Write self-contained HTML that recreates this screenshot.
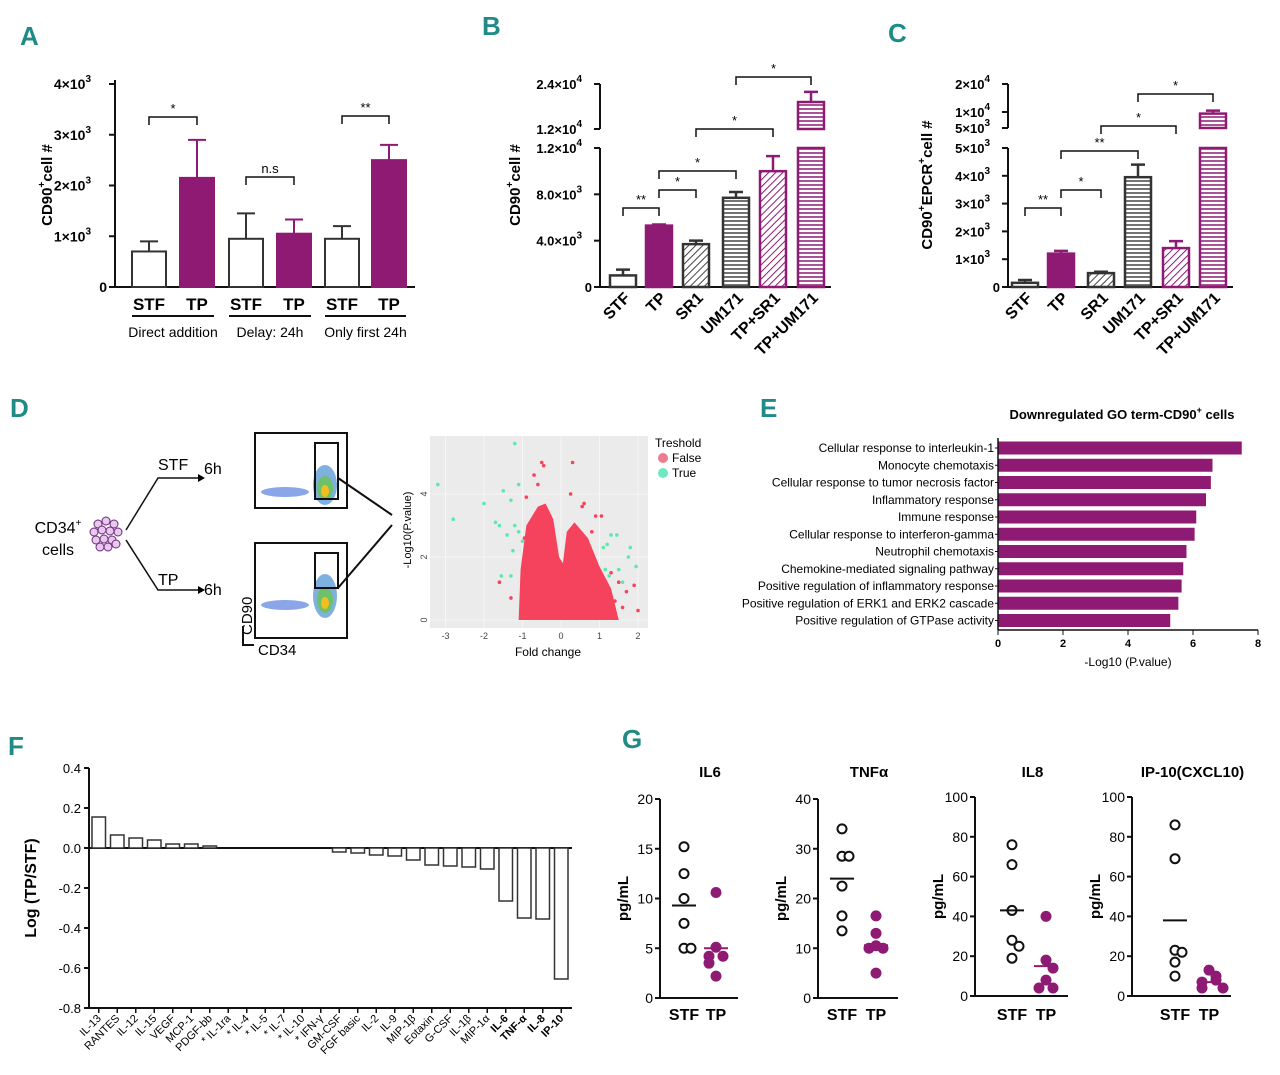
<!DOCTYPE html>
<html><head><meta charset="utf-8"><style>
body{margin:0;background:#fff}
svg{display:block;font-family:"Liberation Sans",sans-serif}
.pl{font-family:"Liberation Sans",sans-serif;font-weight:bold;fill:#1f8a86;font-size:26px}
</style></head><body>
<svg id="fig" width="1280" height="1075" viewBox="0 0 1280 1075" xmlns="http://www.w3.org/2000/svg">
<defs>
<pattern id="diag" width="5" height="5" patternUnits="userSpaceOnUse" patternTransform="rotate(45)"><rect width="5" height="5" fill="#fff"/><line x1="0" y1="0" x2="0" y2="5" stroke="#444" stroke-width="2"/></pattern>
<pattern id="diagP" width="5" height="5" patternUnits="userSpaceOnUse" patternTransform="rotate(45)"><rect width="5" height="5" fill="#fff"/><line x1="0" y1="0" x2="0" y2="5" stroke="#8e1a74" stroke-width="2"/></pattern>
<pattern id="hor" width="5" height="4" patternUnits="userSpaceOnUse"><rect width="5" height="4" fill="#fff"/><line x1="0" y1="1" x2="5" y2="1" stroke="#444" stroke-width="1.5"/></pattern>
<pattern id="horP" width="5" height="4" patternUnits="userSpaceOnUse"><rect width="5" height="4" fill="#fff"/><line x1="0" y1="1" x2="5" y2="1" stroke="#8e1a74" stroke-width="1.5"/></pattern>
</defs>
<text class="pl" x="20" y="45">A</text>
<text class="pl" x="482" y="35">B</text>
<text class="pl" x="888" y="42">C</text>
<text class="pl" x="10" y="417">D</text>
<text class="pl" x="760" y="417">E</text>
<text class="pl" x="8" y="755">F</text>
<text class="pl" x="622" y="748">G</text>

<g font-size="16">
<text x="58" y="533" text-anchor="middle">CD34<tspan font-size="10" dy="-7">+</tspan></text>
<text x="58" y="555" text-anchor="middle">cells</text>
<g stroke="#6b2a7a" fill="#e8c8ef" stroke-width="1">
<circle cx="98" cy="524" r="4"/><circle cx="106" cy="521" r="4"/><circle cx="114" cy="524" r="4"/><circle cx="94" cy="532" r="4"/><circle cx="102" cy="530" r="4"/><circle cx="110" cy="531" r="4"/><circle cx="118" cy="532" r="4"/><circle cx="96" cy="540" r="4"/><circle cx="104" cy="539" r="4"/><circle cx="112" cy="540" r="4"/><circle cx="100" cy="547" r="4"/><circle cx="108" cy="547" r="4"/><circle cx="116" cy="544" r="4"/>
</g>
<path d="M126 530 L158 478 L198 478" fill="none" stroke="#111" stroke-width="1.5"/><path d="M198 474 L205 478 L198 482Z"/>
<path d="M126 540 L158 590 L198 590" fill="none" stroke="#111" stroke-width="1.5"/><path d="M198 586 L205 590 L198 594Z"/>
<text x="158" y="470">STF</text><text x="204" y="474">6h</text>
<text x="158" y="585">TP</text><text x="204" y="595">6h</text>
<g>
<rect x="255" y="433" width="92" height="75" fill="#fff" stroke="#111" stroke-width="2"/>
<ellipse cx="285" cy="492" rx="24" ry="5" fill="#8aa6e8"/><ellipse cx="325" cy="485" rx="12" ry="20" fill="#7fb0e0"/><ellipse cx="325" cy="488" rx="8" ry="12" fill="#6fc06a"/><ellipse cx="325" cy="491" rx="4" ry="6" fill="#f0c020"/>
<rect x="315" y="443" width="23" height="56" fill="none" stroke="#111" stroke-width="2"/>
</g>
<g>
<rect x="255" y="543" width="92" height="95" fill="#fff" stroke="#111" stroke-width="2"/>
<ellipse cx="285" cy="605" rx="24" ry="5" fill="#8aa6e8"/><ellipse cx="325" cy="596" rx="12" ry="22" fill="#7fb0e0"/><ellipse cx="325" cy="600" rx="8" ry="13" fill="#6fc06a"/><ellipse cx="325" cy="603" rx="4" ry="6" fill="#f0c020"/>
<rect x="315" y="553" width="23" height="35" fill="none" stroke="#111" stroke-width="2"/>
</g>
<line x1="338" y1="478" x2="392" y2="515" stroke="#111" stroke-width="2"/>
<line x1="338" y1="588" x2="392" y2="525" stroke="#111" stroke-width="2"/>
<text transform="translate(252,635) rotate(-90)" font-size="15">CD90</text>
<text x="258" y="655" font-size="15">CD34</text>
<path d="M243 626 L243 645 L254 645" fill="none" stroke="#111" stroke-width="2"/>
</g>
<g id="volcano"></g>

<g id="pA"></g>
<g id="pB"></g>
<g id="pC"></g>
<g id="pE"></g>
<g id="pF"></g>
<g id="pG"></g>
</svg>
<script>
const aCats = ["STF","TP","STF","TP","STF","TP"];
const aVals = [700,2150,950,1050,950,2500];
const aErr = [900,2900,1450,1330,1200,2800];
const aGroups = ["Direct addition","Delay: 24h","Only first 24h"];
const bCats = ["STF","TP","SR1","UM171","TP+SR1","TP+UM171"];
const bVals = [1000,5300,3700,7700,10000,19200];
const bErr = [1500,5400,4000,8200,11300,21900];
const cCats = ["STF","TP","SR1","UM171","TP+SR1","TP+UM171"];
const cVals = [150,1200,500,3950,1400,9500];
const cErr = [250,1300,550,4400,1650,10500];
const eTerms = ["Cellular response to interleukin-1","Monocyte chemotaxis","Cellular response to tumor necrosis factor","Inflammatory response","Immune response","Cellular response to interferon-gamma","Neutrophil chemotaxis","Chemokine-mediated signaling pathway","Positive regulation of inflammatory response","Positive regulation of ERK1 and ERK2 cascade","Positive regulation of GTPase activity"];
const eVals = [7.5,6.6,6.55,6.4,6.1,6.05,5.8,5.7,5.65,5.55,5.3];
const eTicks = [0,2,4,6,8];
const fCats = ["IL-13","RANTES","IL-12","IL-15","VEGF","MCP-1","PDGF-bb","* IL-1ra","* IL-4","* IL-5","* IL-7","* IL-10","* IFN-γ","GM-CSF","FGF basic","IL-2","IL-9","MIP-1β","Eotaxin","G-CSF","IL-1β","MIP-1α","IL-6","TNF-α","IL-8","IP-10"];
const fVals = [0.155,0.065,0.05,0.04,0.02,0.02,0.01,0,0,0,0,0,0,-0.02,-0.025,-0.035,-0.04,-0.06,-0.085,-0.09,-0.095,-0.105,-0.265,-0.35,-0.355,-0.655];
const fTicks = [0.4,0.2,0.0,-0.2,-0.4,-0.6,-0.8];
const gTitles = ["IL6","TNFα","IL8","IP-10(CXCL10)"];
const gMax = [20,40,100,100];
const gTicks = [[0,5,10,15,20],[0,10,20,30,40],[0,20,40,60,80,100],[0,20,40,60,80,100]];
const gSTF = [[15.2,12.5,10,7.5,5,5],[34,28.5,28.5,22.5,16.5,13.5],[76,66,43,28,25,19],[86,69,23,22,17,10]];
const gTP = [[10.6,5.1,4.2,4.2,3.5,2.2],[16.5,13,10.5,10,10,5],[40,18,14,8,4,4],[13,10,8,7,4,4]];
const gSTFmean = [9.3,24,43,38];
const gTPmean = [5,10.6,15,7];
const vTrueX = [-3.2,-2.8,-2,-1.2,-1.5,-1.3,-1.1,-1.7,-1.6,-1.4,-1.2,-1.0,-1.1,-1.3,-1.55,-1.25,1.1,1.2,1.3,1.45,1.8,1.75,1.95,1.5,1.15,1.25,1.6];
const vTrueY = [4.3,3.2,3.7,5.6,4.1,3.8,4.3,3.1,3.0,2.7,3.0,2.5,2.8,1.4,1.4,2.2,2.3,2.4,2.7,2.7,2.3,2.0,1.7,1.6,1.6,1.4,1.2];
const vFalseX = [-0.5,-0.45,0.3,-0.7,-0.6,0.25,0.6,0.9,-0.9,1.05,1.5,1.9,2.0,-1.3,-1.6,1.7,0.55,-0.95,-1.0,1.3,1.4,0.8,-0.8,1.6];
const vFalseY = [5.0,4.9,5.0,4.6,4.3,4.0,3.7,3.3,3.9,3.3,1.2,1.1,0.3,0.7,1.2,0.9,3.6,2.6,1.0,1.5,0.6,2.8,3.0,0.4];

const NS="http://www.w3.org/2000/svg";
function mk(parent,tag,attrs,text){const e=document.createElementNS(NS,tag);for(const k in attrs)e.setAttribute(k,attrs[k]);if(text!==undefined)e.textContent=text;parent.appendChild(e);return e;}
const PUR="#8e1a74", DK="#333";
function sup(parent,x,y,base,exp,attrs){const t=mk(parent,'text',Object.assign({x:x,y:y},attrs));t.textContent=base;mk(t,'tspan',{dy:-7,'font-size':'10'},exp);return t;}
function bracket(g,x1,x2,y,label){mk(g,'path',{d:`M${x1} ${y+8} L${x1} ${y} L${x2} ${y} L${x2} ${y+8}`,fill:'none',stroke:'#111','stroke-width':1.5});mk(g,'text',{x:(x1+x2)/2,y:y-4,'text-anchor':'middle','font-size':13},label);}

(function(){
const g=document.getElementById('pA');
const ax=115, y0=287, ppu=50.75/1000;
const Y=v=>y0-v*ppu;
const cx=[149,197,246,294,342,389];
mk(g,'line',{x1:ax,y1:80,x2:ax,y2:y0,stroke:'#111','stroke-width':2});
mk(g,'line',{x1:ax,y1:y0,x2:415,y2:y0,stroke:'#111','stroke-width':2});
[0,1,2,3,4].forEach(t=>{const y=Y(t*1000);mk(g,'line',{x1:ax-6,y1:y,x2:ax,y2:y,stroke:'#111','stroke-width':2});
 if(t===0)mk(g,'text',{x:ax-8,y:y+5,'text-anchor':'end','font-size':14,'font-weight':'bold'},'0');
 else sup(g,ax-24,y+5,t+'×10','3',{'text-anchor':'end','font-size':14,'font-weight':'bold'});});
aVals.forEach((v,i)=>{const isTP=i%2===1;
 const b=mk(g,'rect',{x:cx[i]-17,y:Y(v),width:34,height:y0-Y(v),fill:isTP?PUR:'#fff',stroke:isTP?PUR:DK,'stroke-width':2});
 
 
 mk(g,'path',{d:`M${cx[i]} ${Y(v)} L${cx[i]} ${Y(aErr[i])} M${cx[i]-9} ${Y(aErr[i])} L${cx[i]+9} ${Y(aErr[i])}`,stroke:isTP?PUR:DK,'stroke-width':2});
 mk(g,'text',{x:cx[i],y:310,'text-anchor':'middle','font-size':17,'font-weight':'bold'},aCats[i]);
});
aGroups.forEach((s,k)=>{const a=cx[2*k]-17,b=cx[2*k+1]+17;mk(g,'line',{x1:a,y1:316,x2:b,y2:316,stroke:'#111','stroke-width':2});mk(g,'text',{x:(a+b)/2,y:337,'text-anchor':'middle','font-size':14},s);});
bracket(g,cx[0],cx[1],117,'*');bracket(g,cx[2],cx[3],177,'n.s');bracket(g,cx[4],cx[5],116,'**');
const t=mk(g,'text',{transform:'translate(52,185) rotate(-90)','text-anchor':'middle','font-size':15,'font-weight':'bold'});t.textContent='CD90';mk(t,'tspan',{dy:-7,'font-size':10},'+');mk(t,'tspan',{dy:7},'cell #');
})();

function broken(gid,cats,vals,errs,ax,cxs,Ylow,Yhigh,lowMax,lowTicks,highTicks,title,titleX,brackets){
const g=document.getElementById(gid);const y0=287;
const Y=v=>v<=lowMax?Ylow(v):Yhigh(v);
mk(g,'line',{x1:ax,y1:148,x2:ax,y2:y0,stroke:'#111','stroke-width':2});
mk(g,'line',{x1:ax,y1:84,x2:ax,y2:Yhigh(lowMax),stroke:'#111','stroke-width':2});
mk(g,'line',{x1:ax,y1:y0,x2:cxs[5]+20,y2:y0,stroke:'#111','stroke-width':2});
lowTicks.forEach(t=>{const y=Ylow(t[0]);mk(g,'line',{x1:ax-6,y1:y,x2:ax,y2:y,stroke:'#111','stroke-width':2});
 if(t[1]==='0')mk(g,'text',{x:ax-8,y:y+5,'text-anchor':'end','font-size':13,'font-weight':'bold'},'0');else sup(g,ax-18,y+5,t[1],t[2],{'text-anchor':'end','font-size':13,'font-weight':'bold'});});
highTicks.forEach(t=>{const y=Yhigh(t[0]);mk(g,'line',{x1:ax-6,y1:y,x2:ax,y2:y,stroke:'#111','stroke-width':2});sup(g,ax-18,y+5,t[1],t[2],{'text-anchor':'end','font-size':13,'font-weight':'bold'});});
const fills=['#fff',PUR,'url(#diag)','url(#hor)','url(#diagP)','url(#horP)'];
const strokes=[DK,PUR,DK,DK,PUR,PUR];
vals.forEach((v,i)=>{const c=cxs[i];
 if(v<=lowMax){const b=mk(g,'rect',{x:c-13,y:Ylow(v),width:26,height:y0-Ylow(v),fill:fills[i],stroke:strokes[i],'stroke-width':2.5});
  
  }
 else{const b=mk(g,'rect',{x:c-13,y:148,width:26,height:y0-148,fill:fills[i],stroke:strokes[i],'stroke-width':2.5});
  
  
  const b2=mk(g,'rect',{x:c-13,y:Yhigh(v),width:26,height:Yhigh(lowMax)-Yhigh(v),fill:fills[i],stroke:strokes[i],'stroke-width':2.5});
  
  }
 mk(g,'path',{d:`M${c} ${Y(v)} L${c} ${Y(errs[i])} M${c-7} ${Y(errs[i])} L${c+7} ${Y(errs[i])}`,stroke:strokes[i],'stroke-width':2.5});
 mk(g,'text',{transform:`translate(${c+8},${y0+12}) rotate(-45)`,'text-anchor':'end','font-size':16,'font-weight':'bold'},cats[i]);
});
brackets.forEach(b=>bracket(g,cxs[b[0]],cxs[b[1]],b[2],b[3]));
const t=mk(g,'text',{transform:`translate(${titleX},185) rotate(-90)`,'text-anchor':'middle','font-size':15,'font-weight':'bold'});t.textContent=title[0];mk(t,'tspan',{dy:-7,'font-size':10},'+');mk(t,'tspan',{dy:7},title[1]);
if(title[2]){mk(t,'tspan',{dy:-7,'font-size':10},'+');mk(t,'tspan',{dy:7},title[2]);}
}
broken('pB',bCats,bVals,bErr,600,[623,659,696,736,773,811],
 v=>287-v*(139/12000), v=>129-(v-12000)*(45/12000),12000,
 [[0,'0'],[4000,'4.0×10','3'],[8000,'8.0×10','3'],[12000,'1.2×10','4']],[[12000,'1.2×10','4'],[24000,'2.4×10','4']],
 ['CD90','cell #'],520,[[0,1,208,'**'],[1,2,190,'*'],[1,3,171,'*'],[2,4,129,'*'],[3,5,77,'*']]);
broken('pC',cCats,cVals,cErr,1008,[1025,1061,1101,1138,1176,1213],
 v=>287-v*(139/5000), v=>v<=10000?128-(v-5000)*(16/5000):112-(v-10000)*(28/10000),5000,
 [[0,'0'],[1000,'1×10','3'],[2000,'2×10','3'],[3000,'3×10','3'],[4000,'4×10','3'],[5000,'5×10','3']],[[5000,'5×10','3'],[10000,'1×10','4'],[20000,'2×10','4']],
 ['CD90','EPCR','cell #'],932,[[0,1,208,'**'],[1,2,190,'*'],[1,3,151,'**'],[2,4,126,'*'],[3,5,94,'*']]);

(function(){
const g=document.getElementById('volcano');
const X=v=>561+v*38.5, Y=v=>620-v*31.5;
mk(g,'rect',{x:430,y:436,width:218,height:192,fill:'#ebebeb'});
[-3,-2,-1,0,1,2].forEach(t=>{mk(g,'line',{x1:X(t),y1:436,x2:X(t),y2:628,stroke:'#f6f6f6'});mk(g,'text',{x:X(t),y:639,'text-anchor':'middle','font-size':9,fill:'#444'},t);});
[0,2,4].forEach(t=>{mk(g,'line',{x1:430,y1:Y(t),x2:648,y2:Y(t),stroke:'#f6f6f6'});mk(g,'text',{transform:`translate(427,${Y(t)}) rotate(-90)`,'text-anchor':'middle','font-size':9,fill:'#444'},t);});
mk(g,'path',{d:`M${X(-1.1)} ${Y(0)} L${X(-1.05)} ${Y(1.6)} L${X(-0.9)} ${Y(3.0)} L${X(-0.6)} ${Y(3.6)} L${X(-0.4)} ${Y(3.7)} L${X(-0.2)} ${Y(3.2)} L${X(-0.05)} ${Y(2.0)} L${X(0.05)} ${Y(1.8)} L${X(0.15)} ${Y(2.8)} L${X(0.35)} ${Y(3.1)} L${X(0.7)} ${Y(2.6)} L${X(1.0)} ${Y(1.7)} L${X(1.3)} ${Y(1.0)} L${X(1.5)} ${Y(0)} Z`,fill:'#f5435e'});
vFalseX.forEach((x,i)=>{const c=mk(g,'circle',{cx:X(x),cy:Y(vFalseY[i]),r:1.8,fill:'#f5435e'});});
vTrueX.forEach((x,i)=>{const c=mk(g,'circle',{cx:X(x),cy:Y(vTrueY[i]),r:1.8,fill:'#5ee8b0'});});
mk(g,'text',{x:548,y:656,'text-anchor':'middle','font-size':12},'Fold change');
mk(g,'text',{transform:'translate(411,530) rotate(-90)','text-anchor':'middle','font-size':11},'-Log10(P.value)');
mk(g,'text',{x:655,y:447,'font-size':12},'Treshold');
mk(g,'circle',{cx:663,cy:458,r:5,fill:'#f07a90'});mk(g,'text',{x:672,y:462,'font-size':12},'False');
mk(g,'circle',{cx:663,cy:473,r:5,fill:'#6ee8c0'});mk(g,'text',{x:672,y:477,'font-size':12},'True');
})();

(function(){
const g=document.getElementById('pE');
const x0=998, ppu=32.5, top=448, step=17.25;
const t=mk(g,'text',{x:1122,y:419,'text-anchor':'middle','font-size':13,'font-weight':'bold'});t.textContent='Downregulated GO term-CD90';mk(t,'tspan',{dy:-6,'font-size':9},'+');mk(t,'tspan',{dy:6},' cells');
eVals.forEach((v,i)=>{const y=top+i*step;
 const b=mk(g,'rect',{x:x0,y:y-6.5,width:v*ppu,height:13,fill:PUR});
 
 
 mk(g,'text',{x:x0-4,y:y+4,'text-anchor':'end','font-size':12},eTerms[i]);
 mk(g,'line',{x1:x0-3,y1:y,x2:x0,y2:y,stroke:'#111'});
});
mk(g,'line',{x1:x0,y1:438,x2:x0,y2:630,stroke:'#111','stroke-width':1.5});
mk(g,'line',{x1:x0,y1:630,x2:x0+8*ppu,y2:630,stroke:'#111','stroke-width':1.5});
eTicks.forEach(v=>{mk(g,'line',{x1:x0+v*ppu,y1:630,x2:x0+v*ppu,y2:635,stroke:'#111'});mk(g,'text',{x:x0+v*ppu,y:647,'text-anchor':'middle','font-size':11,'font-weight':'bold'},v);});
mk(g,'text',{x:1128,y:666,'text-anchor':'middle','font-size':12},'-Log10 (P.value)');
})();

(function(){
const g=document.getElementById('pF');
const ax=89, Y=v=>848-v*200, slot=18.5;
mk(g,'line',{x1:ax,y1:768,x2:ax,y2:1008,stroke:'#111','stroke-width':2});
mk(g,'line',{x1:ax,y1:1008,x2:572,y2:1008,stroke:'#111','stroke-width':2});
mk(g,'line',{x1:ax,y1:Y(0),x2:572,y2:Y(0),stroke:'#111','stroke-width':2});
fTicks.forEach(t=>{mk(g,'line',{x1:ax-5,y1:Y(t),x2:ax,y2:Y(t),stroke:'#111','stroke-width':2});mk(g,'text',{x:ax-8,y:Y(t)+5,'text-anchor':'end','font-size':13},t.toFixed(1));});
fCats.forEach((c,i)=>{const x=ax+i*slot+3, v=fVals[i];
 if(v!==0){const b=mk(g,'rect',{x:x,y:Math.min(Y(v),Y(0)),width:slot-5,height:Math.abs(Y(v)-Y(0)),fill:'#fff',stroke:'#333','stroke-width':1.5});
  
  }
 const cxm=x+(slot-5)/2;
 mk(g,'line',{x1:cxm,y1:1008,x2:cxm,y2:1013,stroke:'#111','stroke-width':1.5});
 mk(g,'text',{transform:`translate(${cxm+3},${1019}) rotate(-45)`,'text-anchor':'end','font-size':11,'font-weight':i>=22?'bold':'normal'},c);
});
mk(g,'text',{transform:'translate(36,888) rotate(-90)','text-anchor':'middle','font-size':16,'font-weight':'bold'},'Log (TP/STF)');
})();

(function(){
const g=document.getElementById('pG');
const axX=[660,818,975,1132], sx=[684,842,1012,1175], tx=[716,876,1046,1209];
const yTop=[799,799,797,797], yBot=[998,998,996,996];
gTitles.forEach((title,k)=>{
 const Y=v=>yBot[k]-v*(yBot[k]-yTop[k])/gMax[k];
 mk(g,'text',{x:(axX[k]+tx[k])/2+22,y:777,'text-anchor':'middle','font-size':15,'font-weight':'bold'},title);
 mk(g,'line',{x1:axX[k],y1:yTop[k],x2:axX[k],y2:yBot[k],stroke:'#111','stroke-width':2});
 mk(g,'line',{x1:axX[k],y1:yBot[k],x2:tx[k]+22,y2:yBot[k],stroke:'#111','stroke-width':2});
 gTicks[k].forEach(t=>{mk(g,'line',{x1:axX[k]-5,y1:Y(t),x2:axX[k],y2:Y(t),stroke:'#111','stroke-width':2});mk(g,'text',{x:axX[k]-7,y:Y(t)+5,'text-anchor':'end','font-size':14},t);});
 mk(g,'text',{transform:`translate(${axX[k]-32},${(yTop[k]+yBot[k])/2}) rotate(-90)`,'text-anchor':'middle','font-size':15,'font-weight':'bold'},'pg/mL');
 [[gSTF[k],sx[k],false,gSTFmean[k]],[gTP[k],tx[k],true,gTPmean[k]]].forEach(([arr,cx,filled,mean])=>{
  const thr=(gMax[k]/20)*1.0; const placed=[];
  arr.forEach(v=>{const near=placed.filter(p=>Math.abs(p-v)<thr).length;placed.push(v);
   const off=near===0?0:(near%2?1:-1)*7*Math.ceil(near/2);
   const c=mk(g,'circle',{cx:cx+off,cy:Y(v),r:filled?5.5:4.5,fill:filled?PUR:'#fff',stroke:filled?PUR:'#111','stroke-width':filled?0:2});
   
   });
  mk(g,'line',{x1:cx-12,y1:Y(mean),x2:cx+12,y2:Y(mean),stroke:filled?PUR:'#111','stroke-width':2});
 });
 mk(g,'text',{x:sx[k],y:1020,'text-anchor':'middle','font-size':16,'font-weight':'bold'},'STF');
 mk(g,'text',{x:tx[k],y:1020,'text-anchor':'middle','font-size':16,'font-weight':'bold'},'TP');
});
})();
</script>
</body></html>
